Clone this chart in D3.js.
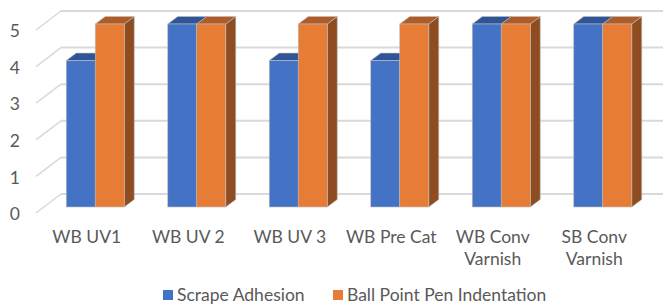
<!DOCTYPE html>
<html>
<head>
<meta charset="utf-8">
<script src="https://cdn.jsdelivr.net/npm/d3@7"></script>
<style>
  body { margin: 0; background: #fff; }
  svg text { font-family: Lato, "Open Sans", sans-serif; fill: #595959; }
</style>
</head>
<body>
<svg id="chart" width="663" height="304"></svg>
<script>
const categories = ["WB UV1", "WB UV 2", "WB UV 3", "WB Pre Cat", "WB Conv Varnish", "SB Conv Varnish"]
const seriesNames = ["Scrape Adhesion", "Ball Point Pen Indentation"]
const scrapeAdhesion = [4, 5, 4, 4, 5, 5]
const ballPointPen = [5, 5, 5, 5, 5, 5]
const yTicks = [0, 1, 2, 3, 4, 5]

const COLORS = {
  front: ["#4472C4", "#E67C35"],
  top: ["#2F5597", "#B05C26"],
  side: ["#2E4F8C", "#8F4C21"],
  grid: "#D9D9D9",
  text: "#595959"
}
const FONT = "17.5px"

const svg = d3.select("#chart")

// front floor plane
const x = d3.scaleBand().domain(categories).range([36, 645])
const y = d3.scaleLinear().domain([0, 5]).range([213, 30])
const series = d3.scaleBand().domain(seriesNames).range([-29, 29])

// depth offsets (wall, bar front, bar back)
const wall = { dx: 25, dy: -19 }
const barFront = { dx: 8.5, dy: -6 }
const barBack = { dx: 18.5, dy: -13.5 }

// gridlines on the back wall + left diagonal
const grid = svg.append("g").attr("class", "grid")
grid.selectAll("line.back")
  .data(yTicks)
  .join("line")
  .attr("class", "back")
  .attr("x1", x.range()[0] + wall.dx)
  .attr("x2", x.range()[1] + wall.dx)
  .attr("y1", d => y(d) + wall.dy)
  .attr("y2", d => y(d) + wall.dy)
  .style("stroke", COLORS.grid)
  .style("stroke-width", 2)
grid.selectAll("line.side")
  .data(yTicks)
  .join("line")
  .attr("class", "side")
  .attr("x1", x.range()[0])
  .attr("x2", x.range()[0] + wall.dx)
  .attr("y1", d => y(d))
  .attr("y2", d => y(d) + wall.dy)
  .style("stroke", COLORS.grid)
  .style("stroke-width", 1.5)

// y labels
svg.append("g")
  .selectAll("text")
  .data(yTicks)
  .join("text")
  .attr("x", 20)
  .attr("y", d => y(d) + 1)
  .attr("dy", "0.35em")
  .attr("text-anchor", "end")
  .style("font-size", FONT)
  .text(d => d)

// bars
const rows = []
categories.forEach((c, i) => {
  rows.push({ cat: c, s: 0, value: scrapeAdhesion[i] })
  rows.push({ cat: c, s: 1, value: ballPointPen[i] })
})

const pt = (px, py) => px + "," + py
const bars = svg.append("g").selectAll("g.bar")
  .data(rows)
  .join("g")
  .attr("class", "bar")

bars.each(function (d) {
  const g = d3.select(this)
  const cx = x(d.cat) + x.bandwidth() / 2
  const x0 = cx + series(seriesNames[d.s]) + barFront.dx
  const x1 = x0 + series.bandwidth()
  const yT = y(d.value) + barFront.dy
  const yB = y(0) + barFront.dy
  const ddx = barBack.dx - barFront.dx
  const ddy = barBack.dy - barFront.dy

  g.append("polygon") // side
    .attr("points", [pt(x1, yT), pt(x1 + ddx, yT + ddy), pt(x1 + ddx, yB + ddy), pt(x1, yB)].join(" "))
    .style("fill", COLORS.side[d.s])
    .style("stroke", "#bcbcbc").style("stroke-width", 0.6)
  g.append("polygon") // top
    .attr("points", [pt(x0, yT), pt(x0 + ddx, yT + ddy), pt(x1 + ddx, yT + ddy), pt(x1, yT)].join(" "))
    .style("fill", COLORS.top[d.s])
    .style("stroke", "#bcbcbc").style("stroke-width", 0.6)
  g.append("rect") // front
    .attr("x", x0)
    .attr("y", yT)
    .attr("width", x1 - x0)
    .attr("height", yB - yT)
    .style("fill", COLORS.front[d.s])
    .style("stroke", "#bcbcbc").style("stroke-width", 0.6)
})

// x labels with wrapping
const xl = svg.append("g").selectAll("text")
  .data(categories)
  .join("text")
  .attr("x", d => x(d) + x.bandwidth() / 2)
  .attr("y", 243)
  .attr("text-anchor", "middle")
  .style("font-size", FONT)

xl.each(function (d) {
  const t = d3.select(this)
  const words = d.split(" ")
  let line = []
  let lines = []
  const probe = t.append("tspan")
  words.forEach(w => {
    probe.text([...line, w].join(" "))
    if (line.length && probe.node().getComputedTextLength() > x.bandwidth() - 4) {
      lines.push(line.join(" "))
      line = [w]
    } else line.push(w)
  })
  lines.push(line.join(" "))
  probe.remove()
  lines.forEach((l, i) => {
    t.append("tspan")
      .attr("x", x(d) + x.bandwidth() / 2)
      .attr("dy", i ? 22 : 0)
      .text(l)
  })
})

// legend
const legendX = [163, 333]
const legend = svg.append("g").selectAll("g")
  .data(seriesNames)
  .join("g")
  .attr("transform", (d, i) => `translate(${legendX[i]},290)`)
legend.append("rect")
  .attr("width", 10).attr("height", 10)
  .style("fill", (d, i) => COLORS.front[i])
legend.append("text")
  .attr("x", 14)
  .attr("y", 11)
  .style("font-size", FONT)
  .text(d => d)
</script>
</body>
</html>
